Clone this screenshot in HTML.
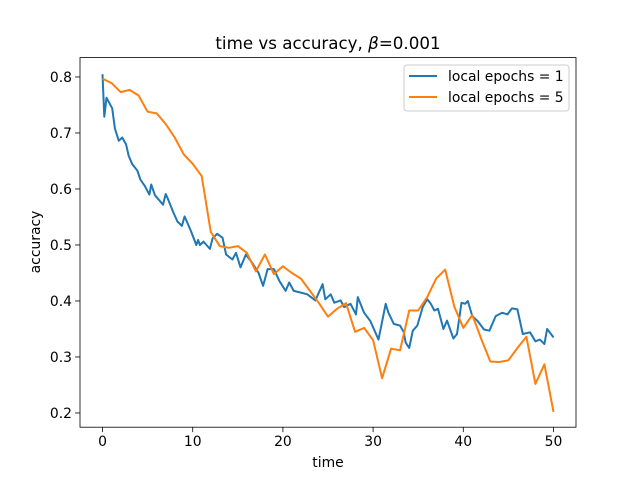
<!DOCTYPE html>
<html><head><meta charset="utf-8"><style>
body{margin:0;background:#fff;}
svg text{font-family:"DejaVu Sans","Liberation Sans",sans-serif;fill:#000;}
</style></head><body>
<svg id="chart" width="640" height="480" viewBox="0 0 640 480">
<rect width="640" height="480" fill="#fff"/>
<text x="328" y="49" font-size="16.7" text-anchor="middle">time vs accuracy, <tspan font-style="italic">β</tspan>=0.001</text>
<g id="series"></g>
<g id="axes"></g>
<text x="328" y="467" font-size="13.9" text-anchor="middle">time</text>
<text x="0" y="0" font-size="13.9" text-anchor="middle" transform="translate(40,242) rotate(-90)">accuracy</text>
<g>
<rect x="404" y="65" width="165" height="46" rx="3" fill="#fff" fill-opacity="0.8" stroke="#ccc"/>
<line x1="409" y1="76" x2="437" y2="76" stroke="#1f77b4" stroke-width="2"/>
<text x="448" y="81" font-size="13.9">local epochs = 1</text>
<line x1="409" y1="97" x2="437" y2="97" stroke="#ff7f0e" stroke-width="2"/>
<text x="448" y="102" font-size="13.9">local epochs = 5</text>
</g>
</svg>
<script>
const blueT=[0,0.2,0.44,1.07,1.37,1.8,2.18,2.6,2.9,3.3,3.85,4.2,4.7,5.2,5.4,5.8,6.7,7.0,7.2,7.8,8.3,8.8,9.1,9.8,10.4,10.6,10.8,11.2,11.9,12.2,12.7,13.3,13.7,14.4,14.8,15.3,15.9,16.6,17.3,17.8,18.3,19,19.6,20.3,20.7,21.2,22,22.7,23.6,24.4,24.7,25.3,25.7,26.4,26.8,27.5,28.1,28.3,29,29.7,30.6,31.4,31.7,32.3,33,33.4,33.6,34,34.4,34.9,35.5,36,36.4,36.8,37.2,37.8,38.2,38.9,39.3,39.8,40.2,40.5,41,41.6,42.3,42.9,43.6,44.3,44.9,45.4,46,46.6,47.4,48,48.5,49,49.3,50];
const blueV=[0.805,0.729,0.763,0.744,0.708,0.686,0.692,0.68,0.659,0.644,0.633,0.617,0.605,0.59,0.608,0.589,0.572,0.591,0.584,0.56,0.542,0.534,0.551,0.525,0.5,0.509,0.5,0.506,0.493,0.512,0.52,0.513,0.483,0.474,0.486,0.46,0.483,0.468,0.45,0.427,0.457,0.457,0.436,0.418,0.433,0.418,0.415,0.412,0.401,0.43,0.403,0.412,0.397,0.401,0.389,0.395,0.376,0.407,0.379,0.364,0.331,0.395,0.379,0.359,0.356,0.344,0.326,0.316,0.347,0.356,0.389,0.403,0.395,0.383,0.386,0.35,0.365,0.333,0.341,0.397,0.395,0.4,0.373,0.364,0.349,0.347,0.373,0.379,0.376,0.387,0.385,0.341,0.344,0.328,0.331,0.323,0.35,0.335];
const orangeV=[0.797,0.789,0.773,0.777,0.767,0.738,0.735,0.716,0.692,0.662,0.645,0.623,0.523,0.498,0.495,0.498,0.486,0.453,0.483,0.448,0.462,0.45,0.44,0.418,0.396,0.372,0.386,0.396,0.345,0.352,0.33,0.262,0.315,0.312,0.383,0.383,0.407,0.44,0.456,0.39,0.352,0.375,0.332,0.292,0.291,0.294,0.316,0.336,0.252,0.287,0.202];
const xTicks=[0,10,20,30,40,50];
const yTicks=[0.2,0.3,0.4,0.5,0.6,0.7,0.8];
const yTickLabels=["0.2","0.3","0.4","0.5","0.6","0.7","0.8"];

const L=80,R=576,T=57.6,B=427.2;
const xMin=-2.5,xMax=52.5,yMin=0.1746,yMax=0.8346;
const sx=v=>L+(v-xMin)/(xMax-xMin)*(R-L);
const sy=v=>B-(v-yMin)/(yMax-yMin)*(B-T);
const NS='http://www.w3.org/2000/svg';
const series=document.getElementById('series');
const axes=document.getElementById('axes');

const pb=document.createElementNS(NS,'polyline');
pb.setAttribute('points',blueT.map((t,i)=>sx(t).toFixed(1)+','+sy(blueV[i]).toFixed(1)).join(' '));
pb.setAttribute('fill','none');pb.setAttribute('stroke','#1f77b4');pb.setAttribute('stroke-width','2');pb.setAttribute('stroke-linejoin','round');


series.appendChild(pb);

const po=document.createElementNS(NS,'polyline');
po.setAttribute('points',orangeV.map((v,i)=>sx(i).toFixed(1)+','+sy(v).toFixed(1)).join(' '));
po.setAttribute('fill','none');po.setAttribute('stroke','#ff7f0e');po.setAttribute('stroke-width','2');po.setAttribute('stroke-linejoin','round');


series.appendChild(po);

const frame=document.createElementNS(NS,'rect');
frame.setAttribute('x',L);frame.setAttribute('y',T);frame.setAttribute('width',R-L);frame.setAttribute('height',B-T);
frame.setAttribute('fill','none');frame.setAttribute('stroke','#000');frame.setAttribute('stroke-width','0.8');


axes.appendChild(frame);

xTicks.forEach(t=>{
  const x=sx(t);
  const ln=document.createElementNS(NS,'line');
  ln.setAttribute('x1',x);ln.setAttribute('x2',x);ln.setAttribute('y1',B);ln.setAttribute('y2',B+4.9);
  ln.setAttribute('stroke','#000');ln.setAttribute('stroke-width','0.8');
  
  
  axes.appendChild(ln);
  const tx=document.createElementNS(NS,'text');
  tx.setAttribute('x',x);tx.setAttribute('y',B+19);tx.setAttribute('font-size','13.9');tx.setAttribute('text-anchor','middle');
  tx.textContent=String(t);
  
  
  axes.appendChild(tx);
});
yTicks.forEach((v,i)=>{
  const y=sy(v);
  const ln=document.createElementNS(NS,'line');
  ln.setAttribute('x1',L-4.9);ln.setAttribute('x2',L);ln.setAttribute('y1',y);ln.setAttribute('y2',y);
  ln.setAttribute('stroke','#000');ln.setAttribute('stroke-width','0.8');
  
  
  axes.appendChild(ln);
  const tx=document.createElementNS(NS,'text');
  tx.setAttribute('x',L-8);tx.setAttribute('y',y+5);tx.setAttribute('font-size','13.9');tx.setAttribute('text-anchor','end');
  tx.textContent=yTickLabels[i];
  
  
  axes.appendChild(tx);
});
</script>
</body></html>
